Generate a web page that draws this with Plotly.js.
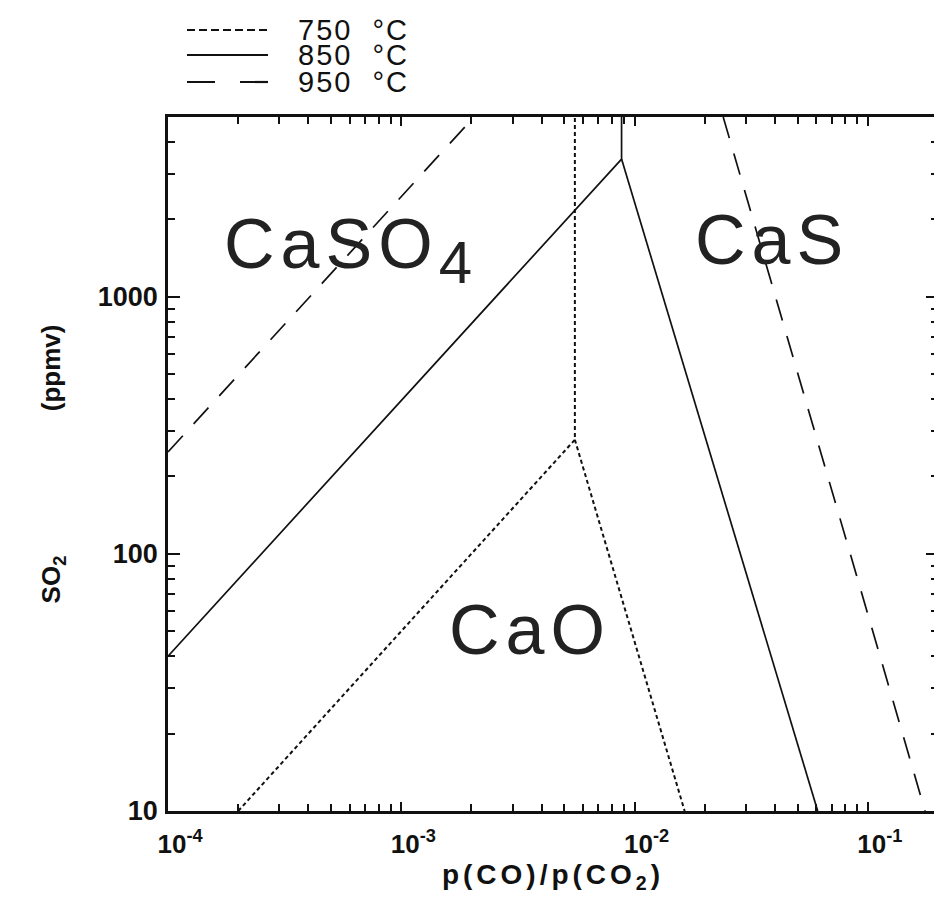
<!DOCTYPE html>
<html>
<head>
<meta charset="utf-8">
<script src="https://cdn.plot.ly/plotly-3.0.1.min.js"></script>
<style>html,body{margin:0;padding:0;overflow:hidden;background:#fff}</style>
</head>
<body>
<div id="chart" style="width:950px;height:900px"></div>
<script>
// ---- data ----
const temperatures = ['750 °C', '850 °C', '950 °C'];

// 750 °C phase boundaries (CaSO4/CaO, CaSO4/CaS, CaO/CaS)
const x750 = [2.0e-4, 5.55e-3, 5.55e-3, null, 5.55e-3, 1.64e-2];
const y750 = [10, 278, 5000, null, 278, 10];

// 850 °C
const x850 = [1.0e-4, 8.8e-3, 8.8e-3, null, 8.8e-3, 6.1e-2];
const y850 = [40, 3430, 5000, null, 3430, 10];

// 950 °C
const x950 = [1.0e-4, 2.05e-3, null, 2.4e-2, 1.76e-1];
const y950 = [249, 5000, null, 5000, 10];

const xTickVals = [1e-4, 1e-3, 1e-2, 1e-1];
const xTickText = ['10<sup>-4</sup>', '10<sup>-3</sup>', '10<sup>-2</sup>', '10<sup>-1</sup>'];
const yTickVals = [10, 100, 1000];
const yTickText = ['10', '100', '1000'];

const regionLabels = ['CaSO', 'CaS', 'CaO'];

// ---- styles ----
const FONT = 'Liberation Sans, Arial, Helvetica, sans-serif';
const dashes = ['4px,3px', 'solid', '22px,16px'];
const legendDashes = ['8px,4px', 'solid', '28px,25px'];
const widths = [2, 1.7, 1.7];

const traces = [
  {x: x750, y: y750, name: temperatures[0]},
  {x: x850, y: y850, name: temperatures[1]},
  {x: x950, y: y950, name: temperatures[2]}
].map((t, i) => Object.assign(t, {
  type: 'scatter', mode: 'lines', connectgaps: false, showlegend: false,
  line: {color: '#111', width: widths[i], dash: dashes[i]},
  hoverinfo: 'x+y+name'
}));

// plot area in pixels: left 168, right 938, top 117, bottom 811
const L = 168, R = 12, T = 117, B = 89, W = 950, H = 900;
const pw = W - L - R, ph = H - T - B;
const px2paperX = p => (p - L) / pw;
const px2paperY = p => (H - B - p) / ph;

const legendRowsPx = [30, 55, 82];
const shapes = [];
const annotations = [];
legendRowsPx.forEach((yy, i) => {
  shapes.push({
    type: 'line', xref: 'paper', yref: 'paper',
    x0: px2paperX(187), x1: px2paperX(268),
    y0: px2paperY(yy), y1: px2paperY(yy),
    line: {color: '#111', width: 2.2, dash: legendDashes[i]}
  });
  annotations.push({
    xref: 'paper', yref: 'paper', x: px2paperX(296), y: px2paperY(yy),
    xanchor: 'left', yanchor: 'middle', showarrow: false,
    text: '<span style="letter-spacing:2px">' + temperatures[i].replace(' ', '  ') + '</span>',
    font: {family: FONT, size: 29, color: '#111'}
  });
});

const regionPos = [[348, 250], [772, 240], [530, 630]];
regionLabels.forEach((lab, i) => {
  let txt = '<span style="letter-spacing:6px">' + lab + '</span>';
  if (i === 0) txt += '<sub><span style="font-size:60px">4</span></sub>';
  annotations.push({
    xref: 'paper', yref: 'paper',
    x: px2paperX(regionPos[i][0]), y: px2paperY(regionPos[i][1]),
    xanchor: 'center', yanchor: 'middle', showarrow: false,
    text: txt, font: {family: FONT, size: 70, color: '#222'}
  });
});

const layout = {
  width: W, height: H,
  margin: {l: L, r: R, t: T, b: B},
  paper_bgcolor: '#fff', plot_bgcolor: '#fff',
  showlegend: false,
  xaxis: {
    type: 'log', range: [-4, Math.log10(0.2)],
    tickvals: xTickVals, ticktext: xTickText,
    ticks: 'inside', ticklen: 9, tickwidth: 2, tickcolor: '#111',
    minor: {ticks: 'inside', ticklen: 7, tickwidth: 1.5, tickcolor: '#111', dtick: 'D1'},
    showline: true, linewidth: 2.5, linecolor: '#111', mirror: 'ticks',
    showgrid: false, zeroline: false,
    tickfont: {family: FONT, size: 26, color: '#111', weight: 'bold'},
    ticklabelshift: 12, ticklabelstandoff: 8,
    title: {text: '<span style="letter-spacing:4px">p(CO)/p(CO<sub>2</sub>)</span>',
            font: {family: FONT, size: 28, color: '#111', weight: 'bold'}, standoff: 2}
  },
  yaxis: {
    type: 'log', range: [1, Math.log10(5000)],
    tickvals: yTickVals, ticktext: yTickText,
    ticks: 'inside', ticklen: 12, tickwidth: 2, tickcolor: '#111',
    minor: {ticks: 'inside', ticklen: 7, tickwidth: 1.5, tickcolor: '#111', dtick: 'D1'},
    showline: true, linewidth: 2.5, linecolor: '#111', mirror: 'ticks',
    showgrid: false, zeroline: false,
    tickfont: {family: FONT, size: 27, color: '#111', weight: 'bold'},
    ticklabelstandoff: 2,
    title: {text: 'SO<sub>2</sub>                    (ppmv)',
            font: {family: FONT, size: 26, color: '#111', weight: 'bold'}, standoff: 30}
  },
  shapes: shapes,
  annotations: annotations
};

Plotly.newPlot('chart', traces, layout, {displayModeBar: false});
</script>
</body>
</html>
